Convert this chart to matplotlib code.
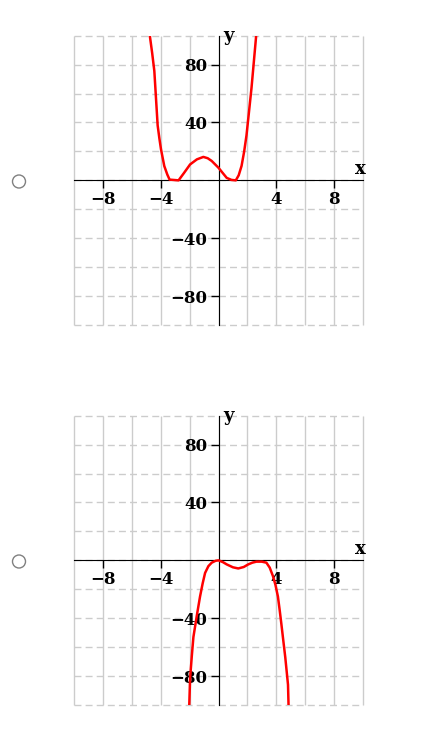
#!/usr/bin/python

# Two quartic graphs stacked, each with a radio button on the left

import matplotlib
matplotlib.use('Agg')
import matplotlib.pyplot as plt
from matplotlib.patches import Ellipse

# curve 1 (opens up, touches zero near -3 and 1)
x1 = [-4.79, -4.6, -4.45, -4.22, -4.1, -3.99, -3.76, -3.55, -3.39, -2.77, -2.4, -1.97, -1.5, -1.05, -0.75,
      -0.47, 0.0, 0.3, 0.57, 0.9, 1.2, 1.4, 1.6, 1.78, 1.94, 2.1, 2.29, 2.46, 2.63]
y1 = [102, 88, 75.6, 38, 29, 21.6, 9.9, 4, 0.5, 0.0, 5, 11, 14.5, 16.2, 15.3,
      13.4, 8.7, 5, 1.7, 0.3, 0.0, 3.5, 10, 20, 31, 46, 64, 83, 102]

# curve 2 (opens down, touches zero near 0 and 3)
x2 = [-2.03, -1.97, -1.85, -1.74, -1.5, -1.28, -1.1, -0.93, -0.7, -0.47, -0.2, 0.0, 0.3, 0.57, 1.0, 1.37,
      1.75, 2.06, 2.35, 2.63, 3.0, 3.32, 3.55, 3.78, 3.95, 4.12, 4.25, 4.36, 4.5, 4.63, 4.72, 4.82, 4.86]
y2 = [-101, -81.5, -66, -53, -38, -25, -16, -8.7, -4, -1.6, -0.3, 0.0, -1.2, -2.8, -4.8, -5.6,
      -4.6, -2.8, -1.6, -0.9, -0.9, -1.6, -5, -11, -17, -25, -35, -44, -56, -67, -76, -86, -101]

xticks = [-8, -4, 4, 8]
yticks = [-80, -40, 40, 80]
xgrid = list(range(-10, 11, 2))
ygrid = list(range(-100, 101, 20))

W, H = 430, 748
FONT = dict(family='DejaVu Serif', weight='bold', size=12)


def fmt(v):
    if v < 0:
        return '\u2212%d' % -v
    return str(v)


def plot_graph(fig, top, xs, ys):
    # axes box in pixels: left 74, width 289, height 289
    ax = fig.add_axes([74.3 / W, 1 - (top + 289.3) / H, 288.4 / W, 289.3 / H])
    ax.set_xlim(-10, 10)
    ax.set_ylim(-100, 100)

    # grid: vertical solid, horizontal dashed
    ax.vlines(xgrid, -100, 100, colors='#cccccc', lw=1, clip_on=False, zorder=0)
    ax.hlines(ygrid, -10, 10, colors='#cccccc', lw=1, linestyles=(0, (5, 3)), clip_on=False, zorder=0)

    for s in ['top', 'right']:
        ax.spines[s].set_visible(False)
    ax.spines['left'].set_position('zero')
    ax.spines['bottom'].set_position('zero')
    ax.spines['left'].set_zorder(3)
    ax.spines['bottom'].set_zorder(3)

    ax.set_xticks(xticks)
    ax.set_yticks(yticks)
    ax.set_xticklabels([fmt(v) for v in xticks], fontdict=FONT)
    ax.set_yticklabels([fmt(v) for v in yticks], fontdict=FONT)
    ax.tick_params(direction='out', length=6, width=1, pad=2)

    ax.plot(xs, ys, color='#ff0000', lw=1.8, zorder=4)

    ax.text(9.85, 1.8, 'x', ha='center', va='bottom', fontsize=13, family='DejaVu Serif', weight='bold')
    ax.text(0.3, 100, 'y', ha='left', va='center', fontsize=13, family='DejaVu Serif', weight='bold')
    ax.patch.set_visible(False)
    return ax


fig = plt.figure(figsize=(W / 100, H / 100), dpi=100)

plot_graph(fig, 35.7, x1, y1)
plot_graph(fig, 415.7, x2, y2)

# radio buttons
for cy in [181.5, 561.5]:
    fig.add_artist(Ellipse((19 / W, 1 - cy / H), 13 / W, 13 / H,
                           transform=fig.transFigure, fill=False, ec='#808080', lw=1))

plt.savefig('out.png', dpi=100)
plt.close()
